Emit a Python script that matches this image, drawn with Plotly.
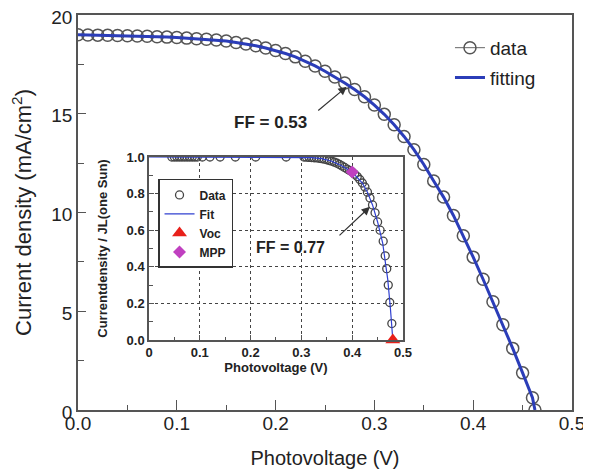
import plotly.graph_objects as go

# ---------------- main J-V data ----------------
v_main = [0.00, 0.01, 0.02, 0.03, 0.04, 0.05, 0.06, 0.07, 0.08, 0.09,
          0.10, 0.11, 0.12, 0.13, 0.14, 0.15, 0.16, 0.17, 0.18, 0.19,
          0.20, 0.21, 0.22, 0.23, 0.24, 0.25, 0.26, 0.27, 0.28, 0.29,
          0.30, 0.31, 0.32, 0.33, 0.34, 0.35, 0.36, 0.37, 0.38, 0.39,
          0.40, 0.41, 0.42, 0.43, 0.44, 0.45, 0.46, 0.4625]
j_main = [19.00, 18.99, 18.98, 18.97, 18.96, 18.95, 18.94, 18.92, 18.90, 18.88,
          18.86, 18.83, 18.80, 18.77, 18.73, 18.68, 18.61, 18.53, 18.44, 18.33,
          18.20, 18.05, 17.88, 17.66, 17.42, 17.15, 16.86, 16.56, 16.23, 15.86,
          15.44, 14.97, 14.44, 13.85, 13.18, 12.43, 11.60, 10.78, 9.85, 8.82,
          7.74, 6.62, 5.48, 4.32, 3.12, 1.88, 0.62, 0.00]
v_fit = v_main
j_fit = j_main

# ---------------- inset normalized data ----------------
v_in = [0.045, 0.05, 0.055, 0.06, 0.065, 0.07, 0.075, 0.08, 0.085, 0.09, 0.095,
        0.105, 0.12, 0.14, 0.17, 0.21, 0.27, 0.305, 0.31, 0.315, 0.32, 0.325,
        0.33, 0.335, 0.34, 0.345, 0.35, 0.355, 0.36, 0.365, 0.37, 0.375, 0.38,
        0.385, 0.39, 0.395, 0.40, 0.405, 0.41, 0.415, 0.42, 0.425, 0.43, 0.435,
        0.44, 0.445, 0.45, 0.455, 0.461, 0.465, 0.468, 0.471, 0.474, 0.478]
j_in = [1.0, 1.0, 1.0, 1.0, 1.0, 1.0, 1.0, 1.0, 1.0, 1.0, 1.0,
        1.0, 1.0, 1.0, 1.0, 1.0, 1.0, 1.0, 0.999, 0.998, 0.997, 0.996,
        0.995, 0.993, 0.991, 0.988, 0.985, 0.981, 0.977, 0.972, 0.966, 0.959, 0.951,
        0.943, 0.934, 0.926, 0.918, 0.906, 0.893, 0.877, 0.858, 0.836, 0.808, 0.776,
        0.738, 0.695, 0.645, 0.600, 0.540, 0.460, 0.390, 0.300, 0.205, 0.090]
v_in_fit = [0.0, 0.1, 0.2, 0.3, 0.32, 0.34, 0.36, 0.38, 0.40, 0.42, 0.43,
            0.44, 0.45, 0.46, 0.47, 0.475, 0.48]
j_in_fit = [1.0, 1.0, 1.0, 1.0, 0.997, 0.991, 0.977, 0.951, 0.918, 0.858, 0.808,
            0.738, 0.645, 0.530, 0.330, 0.180, 0.0]
voc_v = [0.48]
voc_j = [0.0]
mpp_v = [0.40]
mpp_j = [0.918]

x_ticks = [0.0, 0.1, 0.2, 0.3, 0.4, 0.5]
y_ticks = [0, 5, 10, 15, 20]
xin_ticks = [0, 0.1, 0.2, 0.3, 0.4, 0.5]
xin_labels = ["0", "0.1", "0.2", "0.3", "0.4", "0.5"]
yin_ticks = [0.0, 0.2, 0.4, 0.6, 0.8, 1.0]

FONT = "Liberation Sans, Arial, sans-serif"
BLUE = "#2b3db8"
AX = "#555555"
TXT = "#222222"

fig = go.Figure()

fig.add_trace(go.Scatter(
    x=v_main, y=j_main, mode="lines+markers", name="data",
    line=dict(color="#666666", width=1),
    marker=dict(symbol="circle-open", size=12, color="#555555", line=dict(width=1.5)),
    legendgroup="a", xaxis="x", yaxis="y"))
fig.add_trace(go.Scatter(
    x=v_fit, y=j_fit, mode="lines", name="fitting",
    line=dict(color=BLUE, width=3),
    legendgroup="b", xaxis="x", yaxis="y"))

# inset traces
fig.add_trace(go.Scatter(
    x=v_in, y=j_in, mode="markers", name="Data",
    marker=dict(symbol="circle-open", size=8, color="#444444", line=dict(width=1.3)),
    xaxis="x2", yaxis="y2", legend="legend2"))
fig.add_trace(go.Scatter(
    x=v_in_fit, y=j_in_fit, mode="lines", name="Fit",
    line=dict(color="#3040d0", width=1.2),
    xaxis="x2", yaxis="y2", legend="legend2"))
fig.add_trace(go.Scatter(
    x=voc_v, y=voc_j, mode="markers", name="Voc",
    marker=dict(symbol="triangle-up", size=13, color="#e8201a"),
    xaxis="x2", yaxis="y2", legend="legend2", cliponaxis=False))
fig.add_trace(go.Scatter(
    x=mpp_v, y=mpp_j, mode="markers", name="MPP",
    marker=dict(symbol="diamond", size=10, color="#c040c0"),
    xaxis="x2", yaxis="y2", legend="legend2"))

fig.update_layout(
    width=583, height=463,
    margin=dict(l=70, r=19, t=7, b=61, autoexpand=False),
    paper_bgcolor="white", plot_bgcolor="white",
    font=dict(family=FONT, color=TXT),
    xaxis=dict(
        range=[0, 0.5], domain=[0, 1], tickvals=x_ticks, tickformat=".1f",
        ticks="inside", ticklen=10, tickwidth=1.3, tickcolor=AX,
        minor=dict(dtick=0.05, ticks="inside", ticklen=5, tickwidth=1.3, tickcolor=AX, showgrid=False),
        showline=True, linecolor=AX, linewidth=1.5, mirror=True,
        showgrid=False, zeroline=False, automargin=False,
        ticklabeloverflow="allow",
        tickfont=dict(size=19, color=TXT), ticklabelstandoff=-5,
        title=dict(text="Photovoltage (V)", font=dict(size=20, color=TXT), standoff=18)),
    yaxis=dict(
        range=[0, 20], domain=[0, 1], tickvals=y_ticks,
        ticks="inside", ticklen=8, tickwidth=1.3, tickcolor=AX,
        minor=dict(dtick=2.5, ticks="inside", ticklen=6, tickwidth=1.3, tickcolor=AX, showgrid=False),
        showline=True, linecolor=AX, linewidth=1.5, mirror=True,
        showgrid=False, zeroline=False, automargin=False,
        ticklabeloverflow="allow", ticklabelshift=2,
        tickfont=dict(size=19, color=TXT),
        title=dict(text="Current density (mA/cm<sup>2</sup>)", font=dict(size=22, color=TXT), standoff=22)),
    xaxis2=dict(
        anchor="y2", domain=[0.1437, 0.6579], range=[0, 0.5],
        tickvals=xin_ticks, ticktext=xin_labels,
        ticks="inside", ticklen=5, tickwidth=1.2, tickcolor=AX,
        minor=dict(dtick=0.05, ticks="inside", ticklen=3, tickwidth=1, tickcolor=AX, showgrid=False),
        showline=True, linecolor=AX, linewidth=1.5, mirror=True,
        showgrid=True, gridcolor="#444444", griddash="dot", gridwidth=1.3, zeroline=False,
        automargin=False,
        tickfont=dict(size=13, weight="bold", color=TXT),
        title=dict(text="Photovoltage (V)", font=dict(size=13, weight="bold", color=TXT), standoff=4)),
    yaxis2=dict(
        anchor="x2", domain=[0.1772, 0.6405], range=[0, 1.0],
        tickvals=yin_ticks, tickformat=".1f",
        ticks="inside", ticklen=5, tickwidth=1.2, tickcolor=AX,
        minor=dict(dtick=0.1, ticks="inside", ticklen=4, tickwidth=1, tickcolor=AX, showgrid=False),
        showline=True, linecolor=AX, linewidth=1.5, mirror=True,
        showgrid=True, gridcolor="#444444", griddash="dot", gridwidth=1.3, zeroline=False,
        automargin=False,
        tickfont=dict(size=13, weight="bold", color=TXT),
        title=dict(text="Currentdensity / JL(one Sun)", font=dict(size=13, weight="bold", color=TXT), standoff=16)),
    legend=dict(
        x=0.753, y=0.965, xanchor="left", yanchor="top",
        font=dict(size=19, color=TXT), bgcolor="rgba(0,0,0,0)",
        traceorder="grouped", tracegroupgap=2),
    legend2=dict(
        x=0.162, y=0.585, xanchor="left", yanchor="top",
        font=dict(size=12, weight="bold", color=TXT), bgcolor="white",
        bordercolor="#333333", borderwidth=1.5, tracegroupgap=0),
    showlegend=True,
)

fig.add_annotation(x=0.272, y=16.37, xref="x", yref="y", ax=-30, ay=25,
                   showarrow=True, arrowhead=2, arrowsize=1.4, arrowwidth=1.2,
                   arrowcolor="#333333", text="")
fig.add_annotation(x=0.195, y=14.55, xref="x", yref="y", showarrow=False,
                   text="<b>FF = 0.53</b>", font=dict(size=17, color=TXT))
fig.add_annotation(x=0.435, y=0.728, xref="x2", yref="y2", ax=-32, ay=30,
                   showarrow=True, arrowhead=2, arrowsize=1.4, arrowwidth=1.2,
                   arrowcolor="#333333", text="")
fig.add_annotation(x=0.2776, y=0.503, xref="x2", yref="y2", showarrow=False,
                   text="<b>FF = 0.77</b>", font=dict(size=16, color=TXT))

fig.write_html("out.html")
